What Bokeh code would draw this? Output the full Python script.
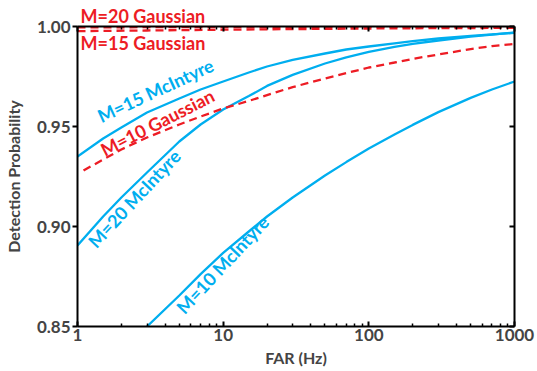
from bokeh.plotting import figure
from bokeh.models import (Range1d, LogAxis, LinearAxis, FixedTicker,
                          PrintfTickFormatter, Label)
from bokeh.embed import file_html
from bokeh.resources import INLINE

# False-alarm rate (Hz) and detection probability for each curve
far_m15_mc = [1, 1.5, 2, 3, 5, 7, 10, 15, 20, 30, 50, 70, 100, 150, 200, 300, 500, 700, 1000]
pd_m15_mc = [0.935, 0.944, 0.9495, 0.957, 0.964, 0.9685, 0.9725, 0.977, 0.980, 0.9833,
             0.9865, 0.9885, 0.990, 0.9916, 0.9927, 0.9940, 0.9953, 0.9961, 0.9968]

far_m20_mc = [1, 1.5, 2, 3, 5, 7, 10, 15, 20, 30, 50, 70, 100, 150, 200, 300, 500, 700, 1000]
pd_m20_mc = [0.8905, 0.905, 0.9145, 0.927, 0.9425, 0.951, 0.9585, 0.9652, 0.9703, 0.9758,
             0.9815, 0.9846, 0.9873, 0.9898, 0.9913, 0.993, 0.9949, 0.9959, 0.997]

far_m10_mc = [3, 5, 7, 10, 15, 20, 30, 50, 70, 100, 150, 200, 300, 500, 700, 1000]
pd_m10_mc = [0.850, 0.8655, 0.8762, 0.8868, 0.8975, 0.905, 0.9145, 0.9255, 0.9322, 0.939,
             0.946, 0.9508, 0.9572, 0.9643, 0.9685, 0.9725]

far_m10_g = [1.1, 1.5, 2, 3, 5, 7, 10, 15, 20, 30, 50, 70, 100, 150, 200, 300, 500, 700, 1000]
pd_m10_g = [0.928, 0.9335, 0.9385, 0.9445, 0.951, 0.955, 0.959, 0.9628, 0.9657, 0.9697,
            0.974, 0.9767, 0.9795, 0.982, 0.9838, 0.986, 0.9887, 0.9902, 0.9913]

far_m15_g = [1, 3, 10, 30, 100, 300, 1000]
pd_m15_g = [0.9977, 0.998, 0.9984, 0.9987, 0.999, 0.9992, 0.9993]

far_m20_g = [1, 10, 100, 1000]
pd_m20_g = [0.9996, 0.9997, 0.9998, 0.9998]

x_ticks = [1, 10, 100, 1000]
x_minor = [d * m for d in (1, 10, 100) for m in range(2, 10)]
y_ticks = [0.85, 0.90, 0.95, 1.00]

CYAN = "#00AEEF"
RED = "#ED1C24"
FONT = "Lato"

p = figure(width=537, height=371, x_axis_type="log",
           x_range=Range1d(1, 1000), y_range=Range1d(0.85, 1.0),
           output_backend="svg", toolbar_location=None,
           min_border_left=77, min_border_right=23,
           min_border_top=26, min_border_bottom=45)
p.xgrid.visible = False
p.ygrid.visible = False
p.outline_line_color = None
p.background_fill_color = "white"
p.border_fill_color = "white"

# the M=20 Gaussian tag sits above the frame, drawn as the plot title
p.title.text = "M=20 Gaussian"
p.title.align = "left"
p.title.offset = 3
p.title.standoff = 0
p.title.text_color = RED
p.title.text_font = FONT
p.title.text_font_style = "bold"
p.title.text_font_size = "18px"

# curves
p.line(far_m15_mc, pd_m15_mc, line_color=CYAN, line_width=2.3)
p.line(far_m20_mc, pd_m20_mc, line_color=CYAN, line_width=2.3)
p.line(far_m10_mc, pd_m10_mc, line_color=CYAN, line_width=2.3)
p.line(far_m10_g, pd_m10_g, line_color=RED, line_width=2.3, line_dash="8 5")
p.line(far_m15_g, pd_m15_g, line_color=RED, line_width=2.3, line_dash="8 5")
p.line(far_m20_g, pd_m20_g, line_color=RED, line_width=2.3, line_dash="8 5")

xt = FixedTicker(ticks=x_ticks, minor_ticks=x_minor)
yt = FixedTicker(ticks=y_ticks, minor_ticks=[])

# bottom axis
xa = p.xaxis[0]
xa.ticker = xt
xa.formatter = PrintfTickFormatter(format="%d")
xa.axis_label = "FAR (Hz)"
xa.axis_label_text_font = FONT
xa.axis_label_text_font_style = "bold"
xa.axis_label_text_font_size = "16px"
xa.axis_label_standoff = 4
xa.major_label_text_font = FONT
xa.major_label_text_font_style = "bold"
xa.major_label_text_font_size = "17px"
xa.major_label_standoff = 2
xa.major_tick_in = 5
xa.major_tick_out = 0
xa.minor_tick_in = 3
xa.minor_tick_out = 0
xa.axis_line_width = 2
xa.major_tick_line_width = 2
xa.minor_tick_line_width = 1.5

# left axis
ya = p.yaxis[0]
ya.ticker = yt
ya.formatter = PrintfTickFormatter(format="%.2f")
ya.axis_label = "Detection Probability"
ya.axis_label_text_font = FONT
ya.axis_label_text_font_style = "bold"
ya.axis_label_text_font_size = "16px"
ya.axis_label_standoff = 11
ya.major_label_text_font = FONT
ya.major_label_text_font_style = "bold"
ya.major_label_text_font_size = "17px"
ya.major_label_standoff = 2
ya.major_tick_in = 0
ya.major_tick_out = 5
ya.axis_line_width = 2
ya.major_tick_line_width = 2

# top and right frame axes with inward ticks, no labels
top = LogAxis(ticker=xt, major_label_text_font_size="1px", major_label_text_color=None,
              major_label_standoff=0,
              major_tick_in=5, major_tick_out=0, minor_tick_in=3, minor_tick_out=0,
              axis_line_width=2, major_tick_line_width=2, minor_tick_line_width=1.5)
p.add_layout(top, "above")
right = LinearAxis(ticker=yt, major_label_text_font_size="1px", major_label_text_color=None,
                   major_label_standoff=0,
                   major_tick_in=5, major_tick_out=0, axis_line_width=2,
                   major_tick_line_width=2)
p.add_layout(right, "right")


def tag(x, y, text, color, angle=0, align="center"):
    p.add_layout(Label(x=x, y=y, text=text, text_color=color, angle=angle,
                       angle_units="deg", text_align=align, text_baseline="middle",
                       text_font=FONT, text_font_style="bold",
                       text_font_size="18px"))


tag(1.05, 0.992, "M=15 Gaussian", RED, align="left")
tag(3.43, 0.968, "M=15 McIntyre", CYAN, angle=25)
tag(3.54, 0.952, "M=10 Gaussian", RED, angle=27)
tag(2.45, 0.914, "M=20 McIntyre", CYAN, angle=47)
tag(9.9, 0.881, "M=10 McIntyre", CYAN, angle=47)

open("out.html", "w").write(file_html(p, INLINE))
